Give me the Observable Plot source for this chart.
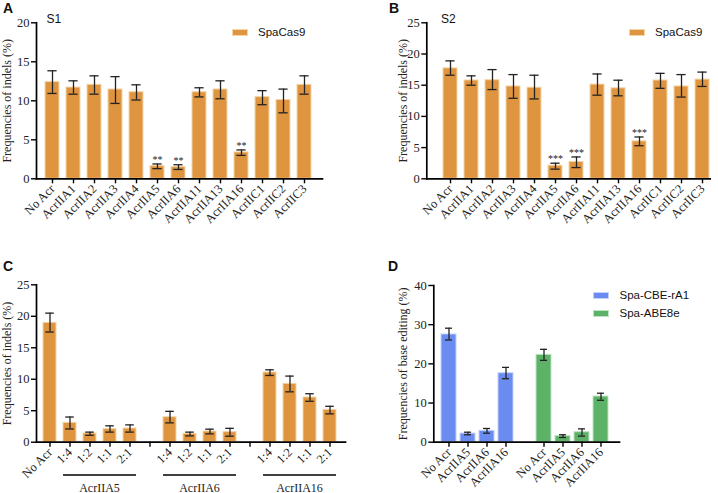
<!DOCTYPE html>
<html>
<head>
<meta charset="utf-8">
<script src="https://cdn.jsdelivr.net/npm/d3@7"></script>
<script src="https://cdn.jsdelivr.net/npm/@observablehq/plot@0.6"></script>
<style>
  html, body { margin: 0; padding: 0; background: #fff; }
  #fig { position: relative; width: 718px; height: 493px; overflow: hidden; background: #fff; }
  .panel { position: absolute; }
  .panel svg { display: block; overflow: visible; }
  .lab { position: absolute; font-family: "Liberation Sans", Arial, sans-serif; color: #111; white-space: nowrap; line-height: 1; }
  .letter { font-weight: bold; font-size: 14px; }
  .sub { font-size: 12px; }
  .leg { font-size: 11.5px; }
  .sw { position: absolute; width: 16px; height: 7px; box-sizing: border-box; }
</style>
</head>
<body>
<div id="fig"></div>
<script>
// ---------- Data ----------
const acrNames = ["No Acr","AcrIIA1","AcrIIA2","AcrIIA3","AcrIIA4","AcrIIA5","AcrIIA6","AcrIIA11","AcrIIA13","AcrIIA16","AcrIIC1","AcrIIC2","AcrIIC3"];

// Panel A (S1) — SpaCas9 indels (%)
const s1Mean = [12.4, 11.7, 12.05, 11.45, 11.1, 1.62, 1.5, 11.1, 11.45, 3.38, 10.47, 10.1, 12.05];
const s1Low  = [10.94, 10.85, 10.85, 9.66, 10.1, 1.3, 1.2, 10.5, 10.26, 3.0, 9.5, 8.46, 10.85];
const s1High = [13.85, 12.56, 13.2, 13.1, 12.05, 1.9, 1.8, 11.67, 12.56, 3.7, 11.3, 11.5, 13.2];
const s1Sig  = ["","","","","","**","**","","","**","","",""];

// Panel B (S2) — SpaCas9 indels (%)
const s2Mean = [17.7, 15.76, 15.8, 14.8, 14.6, 2.1, 2.7, 15.1, 14.5, 6.0, 15.76, 14.8, 15.9];
const s2Low  = [16.6, 15.0, 14.3, 12.9, 12.8, 1.55, 1.8, 13.4, 13.3, 5.3, 14.5, 13.1, 14.8];
const s2High = [18.9, 16.5, 17.5, 16.7, 16.6, 2.5, 3.5, 16.8, 15.8, 6.7, 16.9, 16.7, 17.1];
const s2Sig  = ["","","","","","***","***","","","***","","",""];

// Panel C — dose ratios (gap slots are empty)
const cTickLabels = ["No Acr","1:4","1:2","1:1","2:1","","1:4","1:2","1:1","2:1","","1:4","1:2","1:1","2:1"];
const cGroup      = ["","AcrIIA5","AcrIIA5","AcrIIA5","AcrIIA5","","AcrIIA6","AcrIIA6","AcrIIA6","AcrIIA6","","AcrIIA16","AcrIIA16","AcrIIA16","AcrIIA16"];
const cGroupNames = ["AcrIIA5","AcrIIA6","AcrIIA16"];
const cMean = [18.96, 3.07, 1.38, 2.07, 2.17, null, 3.97, 1.32, 1.7, 1.6, null, 11.07, 9.27, 7.1, 5.14];
const cLow  = [17.5, 2.1, 1.1, 1.6, 1.6, null, 3.07, 1.0, 1.32, 0.95, null, 10.6, 8.0, 6.5, 4.5];
const cHigh = [20.5, 4.0, 1.6, 2.6, 2.75, null, 4.9, 1.6, 2.07, 2.2, null, 11.5, 10.5, 7.7, 5.7];

// Panel D — base editing (%)
const dEditors    = ["Spa-CBE-rA1","Spa-ABE8e"];
const dTickLabels = ["No Acr","AcrIIA5","AcrIIA6","AcrIIA16","","No Acr","AcrIIA5","AcrIIA6","AcrIIA16"];
const dSeries     = ["Spa-CBE-rA1","Spa-CBE-rA1","Spa-CBE-rA1","Spa-CBE-rA1","","Spa-ABE8e","Spa-ABE8e","Spa-ABE8e","Spa-ABE8e"];
const dMean = [27.5, 2.2, 2.9, 17.6, null, 22.3, 1.55, 2.55, 11.66];
const dLow  = [26.1, 1.9, 2.3, 16.2, null, 20.9, 1.2, 1.55, 10.7];
const dHigh = [29.1, 2.55, 3.5, 19.1, null, 23.7, 1.9, 3.4, 12.5];

// ---------- Styles ----------
const fillOf   = {"SpaCas9": "#df943f", "Spa-CBE-rA1": "#6a8bf0", "Spa-ABE8e": "#5cb266"};
const strokeOf = {"SpaCas9": "#f4d5a8", "Spa-CBE-rA1": "#c3d1fb", "Spa-ABE8e": "#c0e3c4"};
const serif = '"Liberation Serif","Times New Roman",serif';

function panel(o) {
  const rows = o.labels.map((label, i) => ({
    key: i, label,
    series: o.series ? o.series[i] : "SpaCas9",
    mean: o.mean[i], low: o.low[i], high: o.high[i],
    sig: o.sig ? o.sig[i] : ""
  })).filter(d => d.mean != null);
  const domain = d3.range(o.labels.length);
  const ticks = o.tickAll ? domain : domain.filter(i => o.mean[i] != null);
  const plot = Plot.plot({
    width: o.width, height: o.height,
    marginLeft: o.ml, marginRight: o.mr, marginTop: o.mt, marginBottom: o.mb,
    style: {fontFamily: serif, fontSize: "12px", color: "#111", background: "transparent", overflow: "visible"},
    x: {type: "band", domain, paddingInner: o.pi, paddingOuter: o.po, align: o.align},
    y: {domain: [0, o.ymax]},
    color: {type: "identity"},
    marks: [
      Plot.barY(rows, {x: "key", y: "mean", fill: d => fillOf[d.series], stroke: d => strokeOf[d.series], strokeWidth: 1}),
      Plot.ruleX(rows, {x: "key", y1: "low", y2: "high", stroke: "#222", strokeWidth: 1.3}),
      Plot.tickY(rows, {x: "key", y: "low", stroke: "#222", strokeWidth: 1.3, insetLeft: o.cap, insetRight: o.cap}),
      Plot.tickY(rows, {x: "key", y: "high", stroke: "#222", strokeWidth: 1.3, insetLeft: o.cap, insetRight: o.cap}),
      Plot.text(rows.filter(d => d.sig), {x: "key", y: "high", text: "sig", lineAnchor: "bottom", dy: -1, fontSize: 10, fill: "#222"}),
      Plot.axisY({ticks: o.yTicks, tickSize: 5, tickPadding: 2, label: null, stroke: "#000", strokeWidth: 1.4, fontSize: 12.5, fill: "#222"}),
      Plot.axisX({ticks, tickFormat: i => o.labels[i], tickRotate: -45, tickSize: 5, tickPadding: 3, label: null, stroke: "#000", strokeWidth: 1.4, fontSize: 12.5, fill: "#222"}),
      Plot.frame({anchor: "left", stroke: "#000", strokeWidth: 1.7}),
      Plot.frame({anchor: "bottom", stroke: "#000", strokeWidth: 1.7}),
      Plot.text([o.yLabel], {text: d => d, frameAnchor: "left", textAnchor: "middle", lineAnchor: "middle", rotate: -90, dx: o.labelDx, fontSize: 12, fill: "#222"})
    ]
  });
  const div = document.createElement("div");
  div.className = "panel";
  div.style.left = o.left + "px";
  div.style.top = o.top + "px";
  div.appendChild(plot);
  document.getElementById("fig").appendChild(div);
  return plot;
}

// Panel A
panel({
  labels: acrNames, mean: s1Mean, low: s1Low, high: s1High, sig: s1Sig,
  left: 0, top: 0, width: 358, height: 240, ml: 36, mr: 36, mt: 22.3, mb: 61.7,
  pi: 0.325, po: 0.41, align: 0.45, ymax: 20, yTicks: [0, 5, 10, 15, 20], cap: 2.4,
  yLabel: "Frequencies of indels (%)", labelDx: -29
});

// Panel B
panel({
  labels: acrNames, mean: s2Mean, low: s2Low, high: s2High, sig: s2Sig,
  left: 358, top: 0, width: 360, height: 240, ml: 68.3, mr: 8.3, mt: 22.3, mb: 61.7,
  pi: 0.325, po: 0.34, align: 0.96, ymax: 25, yTicks: [0, 5, 10, 15, 20, 25], cap: 2.4,
  yLabel: "Frequencies of indels (%)", labelDx: -23.3
});

// Panel C
const plotC = panel({
  labels: cTickLabels, mean: cMean, low: cLow, high: cHigh, tickAll: true,
  left: 0, top: 240, width: 358, height: 253, ml: 36, mr: 13, mt: 44.3, mb: 51.3,
  pi: 0.335, po: 0.39, align: 0.47, ymax: 25, yTicks: [0, 5, 10, 15, 20, 25], cap: 2.2,
  yLabel: "Frequencies of indels (%)", labelDx: -29
});
{
  const xs = plotC.scale("x");
  const svg = d3.select(plotC);
  cGroupNames.forEach(g => {
    const idx = cGroup.map((v, i) => v === g ? i : -1).filter(i => i >= 0);
    const x1 = xs.apply(idx[0]);
    const x2 = xs.apply(idx[idx.length - 1]) + xs.bandwidth;
    svg.append("line").attr("x1", x1).attr("x2", x2).attr("y1", 235).attr("y2", 235)
      .attr("stroke", "#000").attr("stroke-width", 1.5);
    svg.append("text").attr("x", (x1 + x2) / 2).attr("y", 251.5).attr("text-anchor", "middle")
      .attr("font-family", serif).attr("font-size", 12).attr("fill", "#222").text(g);
  });
}

// Panel D
panel({
  labels: dTickLabels, series: dSeries, mean: dMean, low: dLow, high: dHigh,
  left: 358, top: 240, width: 360, height: 253, ml: 75.3, mr: 99, mt: 45, mb: 51.3,
  pi: 0.205, po: 0.30, align: 0.4, ymax: 40, yTicks: [0, 10, 20, 30, 40], cap: 4,
  yLabel: "Frequencies of base editing (%)", labelDx: -31
});

// ---------- Labels & legends ----------
const fig = document.getElementById("fig");
function addLabel(text, cls, left, top) {
  const d = document.createElement("div");
  d.className = "lab " + cls;
  d.style.left = left + "px"; d.style.top = top + "px";
  d.textContent = text;
  fig.appendChild(d);
}
function addSwatch(series, left, top) {
  const s = document.createElement("div");
  s.className = "sw";
  s.style.left = left + "px"; s.style.top = top + "px";
  s.style.background = fillOf[series];
  s.style.border = "1px solid " + strokeOf[series];
  fig.appendChild(s);
}
addLabel("A", "letter", 3, 1);
addLabel("B", "letter", 389, 1);
addLabel("C", "letter", 3, 259);
addLabel("D", "letter", 388, 259);
addLabel("S1", "sub", 46.5, 13);
addLabel("S2", "sub", 441, 13);

addSwatch("SpaCas9", 232, 29);
addLabel("SpaCas9", "leg", 258, 27);
addSwatch("SpaCas9", 629, 29);
addLabel("SpaCas9", "leg", 655, 27);

addSwatch(dEditors[0], 593, 291.5);
addLabel(dEditors[0], "leg", 619.5, 290);
addSwatch(dEditors[1], 593, 309.5);
addLabel(dEditors[1], "leg", 619.5, 308);
</script>
</body>
</html>
